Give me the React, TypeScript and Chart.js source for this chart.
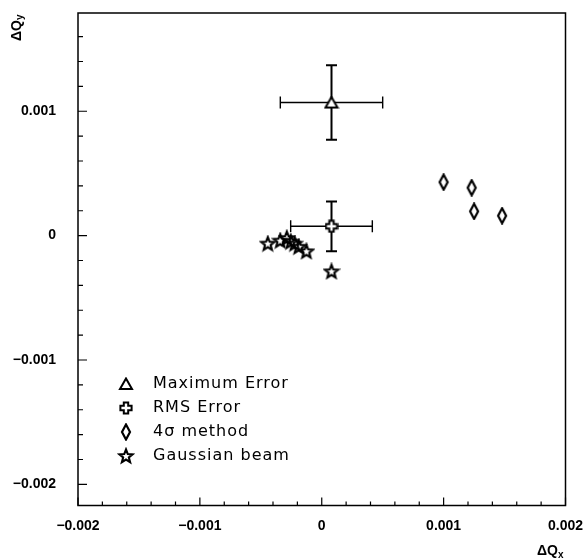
import React, { useEffect, useRef } from "react";
import { Chart, registerables } from "chart.js";

Chart.register(...registerables);

// ---------------- data ----------------
const maxErrorX = [0.00008];
const maxErrorY = [0.00107];
const maxErrorXErr = [0.00042];
const maxErrorYErr = [0.0003];

const rmsErrorX = [0.00008];
const rmsErrorY = [0.000075];
const rmsErrorXErr = [0.000335];
const rmsErrorYErr = [0.0002];

const sigmaX = [0.001, 0.00123, 0.00125, 0.00148];
const sigmaY = [0.00043, 0.000385, 0.000195, 0.00016];

const gaussX = [-0.000443, -0.000341, -0.000287, -0.000254, -0.000222, -0.000189, -0.000126, 0.00008];
const gaussY = [-0.000064, -0.00004, -0.00002, -0.000048, -0.000064, -0.000089, -0.000126, -0.000287];

const xTicks = [-0.002, -0.001, 0, 0.001, 0.002];
const yTicks = [-0.002, -0.001, 0, 0.001];
const minorStep = 0.0002;
const majorStep = 0.001;
const xRange = [-0.002, 0.002];
const yRange = [-0.00217, 0.00179];

const legendLabels = ["Maximum Error", "RMS Error", "4σ method", "Gaussian beam"];
const xTitle = ["ΔQ", "x"];
const yTitle = ["ΔQ", "y"];

// ---------------- helpers ----------------
function fmt(v: number): string {
  if (Math.abs(v) < 1e-12) return "0";
  return (v < 0 ? "\u2212" : "") + Math.abs(v).toFixed(3);
}

function makeCanvas(w: number, h: number, draw: (ctx: CanvasRenderingContext2D) => void) {
  const c = document.createElement("canvas");
  c.width = w;
  c.height = h;
  const ctx = c.getContext("2d")!;
  ctx.strokeStyle = "#000";
  ctx.fillStyle = "#fff";
  ctx.lineJoin = "miter";
  draw(ctx);
  return c;
}

function poly(ctx: CanvasRenderingContext2D, pts: number[][], fill: boolean) {
  ctx.beginPath();
  pts.forEach(([x, y], i) => (i ? ctx.lineTo(x, y) : ctx.moveTo(x, y)));
  ctx.closePath();
  if (fill) ctx.fill();
  ctx.stroke();
}

function makeMarkers() {
  const triangle = makeCanvas(16, 14, (ctx) => {
    ctx.lineWidth = 2;
    poly(ctx, [[8, 1.5], [14, 12], [2, 12]], true);
  });
  const cross = makeCanvas(14, 14, (ctx) => {
    ctx.lineWidth = 2;
    const c = 7, a = 2.2, r = 5.6;
    poly(
      ctx,
      [
        [c - a, c - r], [c + a, c - r], [c + a, c - a], [c + r, c - a], [c + r, c + a], [c + a, c + a],
        [c + a, c + r], [c - a, c + r], [c - a, c + a], [c - r, c + a], [c - r, c - a], [c - a, c - a],
      ],
      true
    );
  });
  const diamond = makeCanvas(12, 18, (ctx) => {
    ctx.lineWidth = 2.2;
    poly(ctx, [[6, 1.5], [10, 9], [6, 16.5], [2, 9]], true);
  });
  const star = makeCanvas(18, 18, (ctx) => {
    ctx.lineWidth = 2.1;
    const c = 9, R = 7, r = 3;
    const pts: number[][] = [];
    for (let i = 0; i < 10; i++) {
      const ang = -Math.PI / 2 + (i * Math.PI) / 5;
      const rad = i % 2 === 0 ? R : r;
      pts.push([c + rad * Math.cos(ang), c + 0.5 + rad * Math.sin(ang)]);
    }
    poly(ctx, pts, false);
  });
  return { triangle, cross, diamond, star };
}

const FONT_TICK = "bold 14px 'Liberation Sans', Arial, sans-serif";

export default function App() {
  const ref = useRef<HTMLCanvasElement | null>(null);

  useEffect(() => {
    document.body.style.margin = "0";
    const m = makeMarkers();
    const legendMarkers = [m.triangle, m.cross, m.diamond, m.star];

    const errorBars = {
      id: "errorBars",
      beforeDatasetsDraw(chart: any) {
        const { ctx } = chart;
        const xs = chart.scales.x, ys = chart.scales.y;
        const series = [
          [maxErrorX, maxErrorY, maxErrorXErr, maxErrorYErr],
          [rmsErrorX, rmsErrorY, rmsErrorXErr, rmsErrorYErr],
        ];
        ctx.save();
        ctx.strokeStyle = "#000";
        for (const [X, Y, XE, YE] of series) {
          for (let i = 0; i < X.length; i++) {
            const px = xs.getPixelForValue(X[i]);
            const py = ys.getPixelForValue(Y[i]);
            const x0 = xs.getPixelForValue(X[i] - XE[i]);
            const x1 = xs.getPixelForValue(X[i] + XE[i]);
            const y0 = ys.getPixelForValue(Y[i] + YE[i]);
            const y1 = ys.getPixelForValue(Y[i] - YE[i]);
            ctx.lineWidth = 1.4;
            ctx.beginPath();
            ctx.moveTo(x0, py); ctx.lineTo(x1, py);
            ctx.moveTo(x0, py - 6); ctx.lineTo(x0, py + 6);
            ctx.moveTo(x1, py - 6); ctx.lineTo(x1, py + 6);
            ctx.stroke();
            ctx.lineWidth = 2;
            ctx.beginPath();
            ctx.moveTo(px, y0); ctx.lineTo(px, y1);
            ctx.moveTo(px - 5.5, y0); ctx.lineTo(px + 5.5, y0);
            ctx.moveTo(px - 5.5, y1); ctx.lineTo(px + 5.5, y1);
            ctx.stroke();
          }
        }
        ctx.restore();
      },
    };

    const frame = {
      id: "frameTicks",
      beforeDatasetsDraw(chart: any) {
        const { ctx, chartArea: a } = chart;
        const xs = chart.scales.x, ys = chart.scales.y;
        ctx.save();
        ctx.strokeStyle = "#000";
        ctx.lineWidth = 1.5;
        ctx.strokeRect(a.left, a.top, a.right - a.left, a.bottom - a.top);
        ctx.lineWidth = 1.2;
        ctx.beginPath();
        const isMajor = (v: number) => Math.abs(v / majorStep - Math.round(v / majorStep)) < 1e-6;
        for (let k = Math.ceil(xRange[0] / minorStep - 1e-6); k * minorStep <= xRange[1] + 1e-12; k++) {
          const v = k * minorStep;
          const px = xs.getPixelForValue(v);
          const len = isMajor(v) ? 8 : 4;
          ctx.moveTo(px, a.bottom);
          ctx.lineTo(px, a.bottom - len);
        }
        for (let k = Math.ceil(yRange[0] / minorStep - 1e-6); k * minorStep <= yRange[1] + 1e-12; k++) {
          const v = k * minorStep;
          const py = ys.getPixelForValue(v);
          const len = isMajor(v) ? 9 : 5;
          ctx.moveTo(a.left, py);
          ctx.lineTo(a.left + len, py);
        }
        ctx.stroke();
        ctx.restore();
      },
    };

    const overlay = {
      id: "overlay",
      afterDraw(chart: any) {
        const { ctx } = chart;
        ctx.save();
        ctx.fillStyle = "#000";
        // legend
        const rowY = [384, 408, 432, 456];
        ctx.font = "16px 'DejaVu Sans', sans-serif";
        try { (ctx as any).letterSpacing = "1px"; } catch (e) {}
        ctx.textBaseline = "middle";
        ctx.textAlign = "left";
        legendLabels.forEach((t, i) => {
          const mk = legendMarkers[i];
          ctx.drawImage(mk, 126 - mk.width / 2, rowY[i] - mk.height / 2);
          ctx.fillText(t, 153, rowY[i]);
        });
        try { (ctx as any).letterSpacing = "0px"; } catch (e) {}
        // x title
        ctx.textBaseline = "alphabetic";
        ctx.font = FONT_TICK;
        ctx.fillText(xTitle[0], 537, 555);
        const w = ctx.measureText(xTitle[0]).width;
        ctx.font = "bold 10px 'Liberation Sans', Arial, sans-serif";
        ctx.fillText(xTitle[1], 537 + w, 558);
        // y title (rotated)
        ctx.translate(21, 41);
        ctx.rotate(-Math.PI / 2);
        ctx.font = FONT_TICK;
        ctx.fillText(yTitle[0], 0, 0);
        const wy = ctx.measureText(yTitle[0]).width;
        ctx.font = "bold 10px 'Liberation Sans', Arial, sans-serif";
        ctx.fillText(yTitle[1], wy, 2);
        ctx.restore();
      },
    };

    const pts = (X: number[], Y: number[]) => X.map((x, i) => ({ x, y: Y[i] }));

    const chart = new Chart(ref.current!, {
      type: "scatter",
      data: {
        datasets: [
          { label: legendLabels[3], data: pts(gaussX, gaussY), pointStyle: m.star as any, pointRadius: 7 },
          { label: legendLabels[2], data: pts(sigmaX, sigmaY), pointStyle: m.diamond as any, pointRadius: 7 },
          { label: legendLabels[1], data: pts(rmsErrorX, rmsErrorY), pointStyle: m.cross as any, pointRadius: 7 },
          { label: legendLabels[0], data: pts(maxErrorX, maxErrorY), pointStyle: m.triangle as any, pointRadius: 7 },
        ],
      },
      options: {
        responsive: false,
        animation: false,
        devicePixelRatio: 1,
        layout: { padding: { top: 13, right: 21.5, left: 0, bottom: 0 } },
        plugins: { legend: { display: false }, tooltip: { enabled: false } },
        scales: {
          x: {
            type: "linear",
            min: xRange[0],
            max: xRange[1],
            grid: { display: false },
            border: { display: false },
            afterBuildTicks: (s: any) => { s.ticks = xTicks.map((v) => ({ value: v })); },
            afterFit: (s: any) => { s.height = 52.5; s.paddingLeft = 0; s.paddingRight = 0; },
            ticks: {
              padding: 4,
              color: "#000",
              maxRotation: 0,
              autoSkip: false,
              font: { family: "'Liberation Sans', Arial, sans-serif", size: 14, weight: "bold" },
              callback: (v: any) => fmt(Number(v)),
            },
          },
          y: {
            type: "linear",
            min: yRange[0],
            max: yRange[1],
            grid: { display: false },
            border: { display: false },
            afterBuildTicks: (s: any) => { s.ticks = yTicks.map((v) => ({ value: v })); },
            afterFit: (s: any) => { s.width = 78; s.paddingTop = 0; s.paddingBottom = 0; },
            ticks: {
              padding: 14,
              color: "#000",
              autoSkip: false,
              font: { family: "'Liberation Sans', Arial, sans-serif", size: 14, weight: "bold" },
              callback: (v: any) => fmt(Number(v)),
            },
          },
        },
      },
      plugins: [frame, errorBars, overlay],
    } as any);

    return () => chart.destroy();
  }, []);

  return (
    <div style={{ position: "absolute", left: 0, top: 0, width: 587, height: 558, background: "#fff" }}>
      <canvas ref={ref} width={587} height={558} style={{ display: "block", width: 587, height: 558 }} />
    </div>
  );
}
